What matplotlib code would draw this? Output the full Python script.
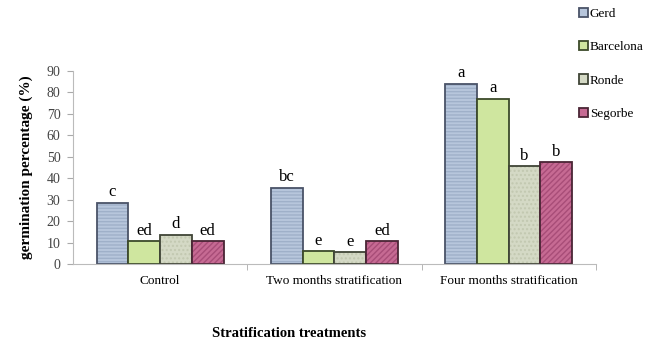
import matplotlib.pyplot as plt
import numpy as np

plt.rcParams['font.family'] = ['Liberation Serif', 'DejaVu Serif']

treatments = ["Control", "Two months stratification", "Four months stratification"]
cultivars = ["Gerd", "Barcelona", "Ronde", "Segorbe"]
gerd = [28.5, 35.5, 84]
barcelona = [10.5, 6, 77]
ronde = [13.5, 5.5, 45.5]
segorbe = [10.5, 10.5, 47.5]
letters = [
    ["c", "bc", "a"],
    ["ed", "e", "a"],
    ["d", "e", "b"],
    ["ed", "ed", "b"],
]

colors = ["#b7c6dc", "#cfe69f", "#d4d9c5", "#c66a93"]
edges = ["#4a5368", "#3c4a2a", "#3f4436", "#4a2535"]
hatches = ["-----", "", "....", "//////"]
hatch_cols = ["#9fb0c9", "#cfe69f", "#c2c8b0", "#a84d78"]

fig = plt.figure(figsize=(6.57, 3.46), dpi=100)
ax = fig.add_axes([0.111, 0.237, 0.796, 0.558])

x = np.arange(len(treatments))
w = 0.182
series = [gerd, barcelona, ronde, segorbe]
for i, vals in enumerate(series):
    pos = x + (i - 1.5) * w
    plt.rcParams['hatch.color'] = hatch_cols[i]
    ax.bar(pos, vals, w, color=colors[i], hatch=hatches[i], linewidth=0)
    ax.bar(pos, vals, w, fill=False, edgecolor=edges[i], linewidth=1.3,
           label=cultivars[i])
    for p, v, t in zip(pos, vals, letters[i]):
        ax.text(p, v + 1.2, t, ha="center", va="bottom", fontsize=12)

ax.set_xlim(-0.5, 2.5)
ax.set_ylim(0, 90)
ax.set_yticks(range(0, 91, 10))
ax.set_xticks(x)
ax.set_xticklabels(treatments, fontsize=9.5)
ax.set_xticks([0.5, 1.5, 2.5], minor=True)
ax.tick_params(axis="x", which="major", length=0, pad=8)
ax.tick_params(axis="x", which="minor", length=4, color="#aaaaaa")
ax.tick_params(axis="y", labelsize=10, length=4, pad=5, color="#aaaaaa",
               labelcolor="#444444")
for s in ["top", "right"]:
    ax.spines[s].set_visible(False)
for s in ["left", "bottom"]:
    ax.spines[s].set_color("#bbbbbb")

ax.set_ylabel("germination percentage (%)", fontsize=11, fontweight="bold",
              labelpad=10)
fig.text(0.44, 0.025, "Stratification treatments", ha="center", fontsize=10.5,
         fontweight="bold")

leg = ax.legend(loc="upper left", bbox_to_anchor=(0.957, 1.355), frameon=False,
                fontsize=9.5, handlelength=0.7, handleheight=0.7,
                handletextpad=0.15, labelspacing=1.6, borderaxespad=0)
for h, c in zip(leg.legend_handles, colors):
    h.set_facecolor(c)
    h.set_fill(True)

fig.savefig("out.png", dpi=100)
